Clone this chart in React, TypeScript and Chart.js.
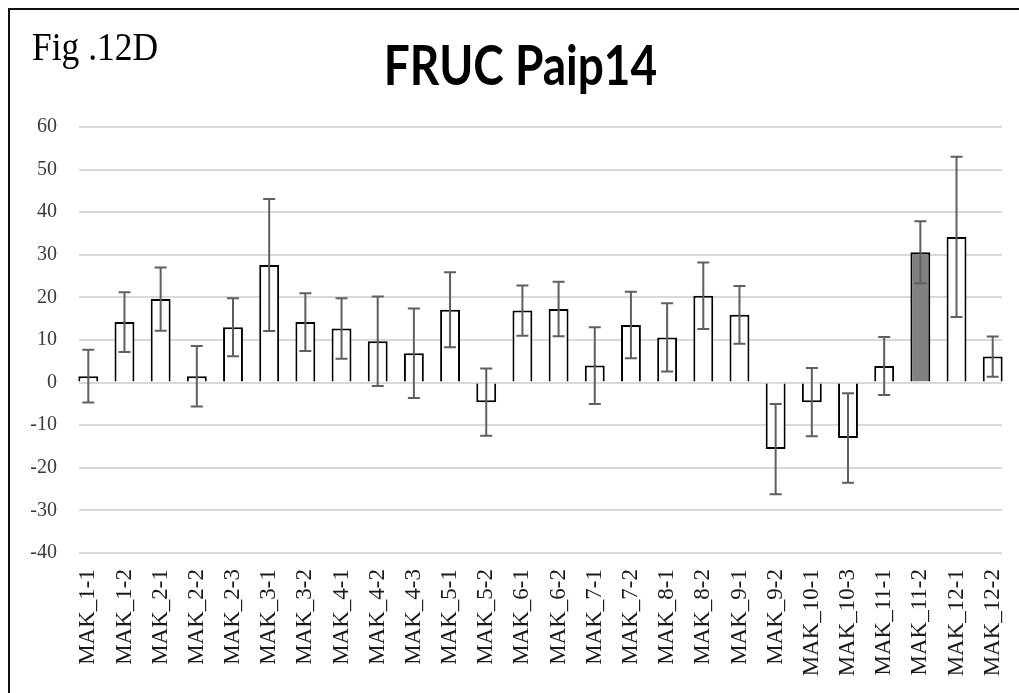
import React, { useEffect, useRef } from "react";
import { Chart, registerables } from "chart.js";

Chart.register(...registerables);

const categories = [
  "MAK_1-1", "MAK_1-2", "MAK_2-1", "MAK_2-2", "MAK_2-3", "MAK_3-1", "MAK_3-2",
  "MAK_4-1", "MAK_4-2", "MAK_4-3", "MAK_5-1", "MAK_5-2", "MAK_6-1", "MAK_6-2",
  "MAK_7-1", "MAK_7-2", "MAK_8-1", "MAK_8-2", "MAK_9-1", "MAK_9-2", "MAK_10-1",
  "MAK_10-3", "MAK_11-1", "MAK_11-2", "MAK_12-1", "MAK_12-2",
];

const values = [
  1.5, 14.2, 19.6, 1.5, 13.0, 27.6, 14.2, 12.7, 9.7, 6.9, 17.1, -4.6, 16.9,
  17.3, 4.0, 13.5, 10.6, 20.4, 15.9, -15.6, -4.6, -13.0, 3.9, 30.6, 34.2, 6.1,
];

const errors = [
  6.2, 7.0, 7.4, 7.1, 6.8, 15.5, 6.8, 7.1, 10.5, 10.5, 8.8, 7.9, 5.9,
  6.4, 9.0, 7.8, 8.0, 7.8, 6.8, 10.6, 8.0, 10.5, 6.8, 7.3, 18.8, 4.7,
];

const yTicks = [-40, -30, -20, -10, 0, 10, 20, 30, 40, 50, 60];

const highlighted = "MAK_11-2";
const titleText = "FRUC Paip14";
const figLabel = "Fig .12D";

const errorBarPlugin = {
  id: "errorBars",
  afterDatasetsDraw(chart: any) {
    const { ctx } = chart;
    const xs = chart.scales.x;
    const ys = chart.scales.y;
    ctx.save();
    ctx.strokeStyle = "#5f5f5f";
    ctx.lineWidth = 2;
    values.forEach((v, i) => {
      const x = xs.getPixelForValue(i);
      const top = ys.getPixelForValue(v + errors[i]);
      const bot = ys.getPixelForValue(v - errors[i]);
      const cap = 6;
      ctx.beginPath();
      ctx.moveTo(x, top);
      ctx.lineTo(x, bot);
      ctx.moveTo(x - cap, top);
      ctx.lineTo(x + cap, top);
      ctx.moveTo(x - cap, bot);
      ctx.lineTo(x + cap, bot);
      ctx.stroke();
    });
    ctx.restore();
  },
};

export default function App() {
  const ref = useRef<HTMLCanvasElement | null>(null);

  useEffect(() => {
    if (!ref.current) return;
    const chart = new Chart(ref.current, {
      type: "bar",
      data: {
        datasets: [
          {
            data: values.map((v, i) => ({ x: i, y: v })),
            backgroundColor: categories.map((c) => (c === highlighted ? "#808080" : "#ffffff")),
            borderColor: "#000000",
            borderWidth: 2,
            categoryPercentage: 1,
            barPercentage: 0.55,
            clip: false,
          } as any,
        ],
      },
      options: {
        responsive: false,
        animation: false,
        layout: { padding: { left: 0, right: 17, top: 117, bottom: 0 } },
        plugins: {
          legend: { display: false },
          tooltip: { enabled: false },
          title: { display: false },
        },
        scales: {
          x: {
            type: "linear",
            offset: false,
            min: -0.257,
            max: categories.length - 1 + 0.257,
            grid: { display: false, drawTicks: false },
            border: { display: false },
            afterBuildTicks: (scale: any) => {
              scale.ticks = categories.map((_, i) => ({ value: i }));
            },
            afterFit: (scale: any) => {
              scale.height = 140;
              scale.paddingLeft = 0;
              scale.paddingRight = 0;
            },
            ticks: {
              autoSkip: false,
              minRotation: 90,
              maxRotation: 90,
              padding: 16,
              color: "#1a1a1a",
              font: { family: "Liberation Serif", size: 23 },
              callback: (v: any) => categories[Math.round(Number(v))] ?? "",
            },
          },
          y: {
            min: yTicks[0],
            max: yTicks[yTicks.length - 1],
            grid: { color: "#d9d9d9", lineWidth: 2, drawTicks: false },
            border: { display: false },
            afterBuildTicks: (scale: any) => {
              scale.ticks = yTicks.map((t) => ({ value: t }));
            },
            afterFit: (scale: any) => {
              scale.width = 69;
              scale.paddingTop = 0;
              scale.paddingBottom = 0;
            },
            ticks: {
              padding: 22,
              color: "#3a3a3a",
              font: { family: "Liberation Serif", size: 20 },
            },
          },
        },
      },
      plugins: [errorBarPlugin],
    });
    return () => chart.destroy();
  }, []);

  return (
    <div
      style={{
        position: "fixed",
        left: 8,
        top: 8,
        width: 1011,
        height: 685,
        boxSizing: "border-box",
        borderTop: "2px solid #111",
        borderLeft: "2px solid #111",
        overflow: "hidden",
        background: "#fff",
      }}
    >
      <canvas ref={ref} width={1009} height={683} style={{ display: "block" }} />
      <div
        style={{
          position: "absolute",
          left: 22,
          top: 17,
          fontFamily: "'Liberation Serif', serif",
          fontSize: 35.5,
          lineHeight: 1,
          color: "#000",
          whiteSpace: "nowrap",
          transformOrigin: "0 0",
          transform: "scaleY(1.15)",
        }}
      >
        {figLabel}
      </div>
      <div
        style={{
          position: "absolute",
          left: 510.5,
          top: 26.6,
          fontFamily: "Lato, sans-serif",
          fontWeight: 700,
          fontSize: 46,
          lineHeight: 1,
          color: "#000",
          whiteSpace: "nowrap",
          transformOrigin: "50% 0",
          transform: "translateX(-50%) scaleY(1.21)",
        }}
      >
        {titleText}
      </div>
    </div>
  );
}
